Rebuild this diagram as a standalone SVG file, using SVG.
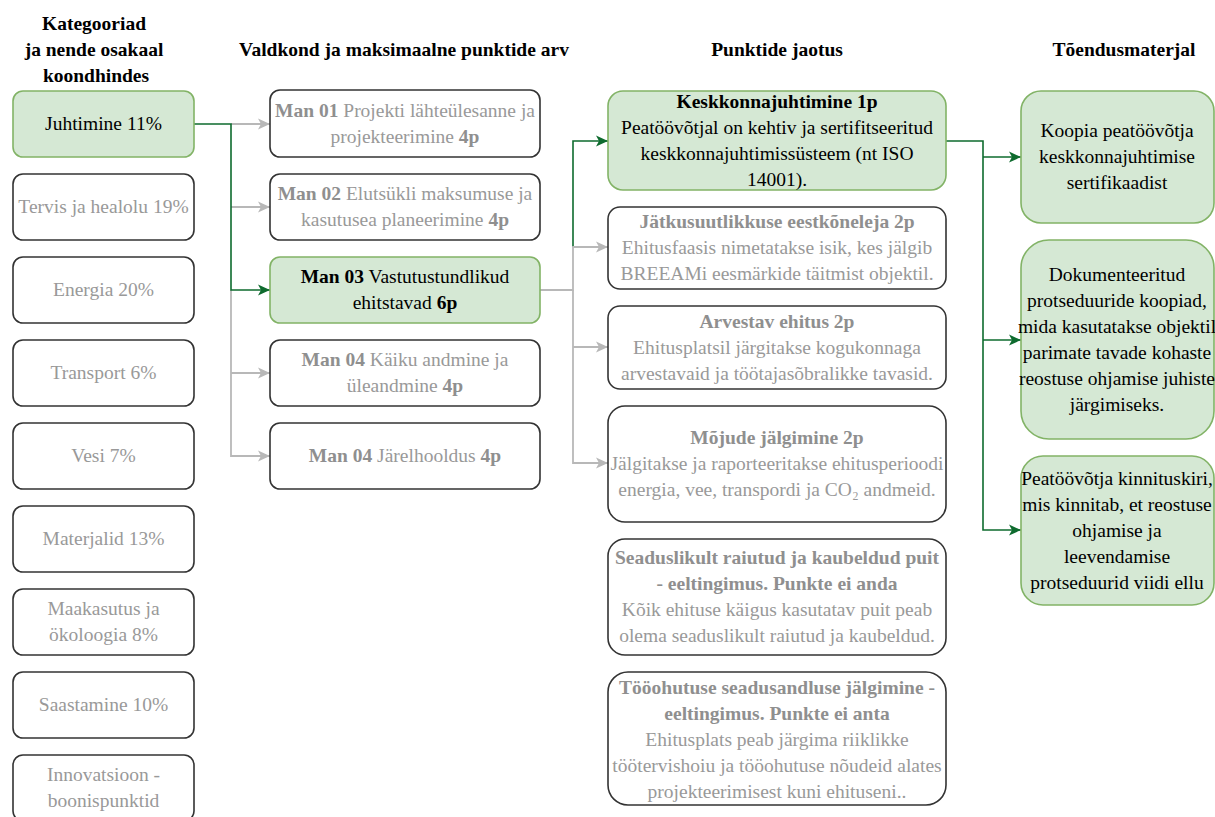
<svg xmlns="http://www.w3.org/2000/svg" width="1215" height="817" viewBox="0 0 1215 817" font-family="'Liberation Serif', 'Times New Roman', 'DejaVu Serif', serif">
<style>
text{font-family:'Liberation Serif','Times New Roman','DejaVu Serif',serif;font-size:19.5px;text-anchor:middle}
.h{font-weight:bold;fill:#000}
.b{font-weight:bold}
.g{fill:#999999}
.g .b{fill:#8f8f8f}
.k{fill:#000}
.box{fill:#ffffff;stroke:#333333;stroke-width:1.6}
.gbox{fill:#d5e8d4;stroke:#82b366;stroke-width:1.6}
.eg{fill:none;stroke:#b8b8b8;stroke-width:1.8}
.eG{fill:none;stroke:#0e6b2e;stroke-width:1.6}
</style>
<defs>
<marker id="ag" markerUnits="userSpaceOnUse" markerWidth="14" markerHeight="14" refX="12" refY="7" orient="auto">
<path d="M0,1.5 L12,7 L0,12.5 L3,7 z" fill="#b8b8b8"/>
</marker>
<marker id="aG" markerUnits="userSpaceOnUse" markerWidth="14" markerHeight="14" refX="12" refY="7" orient="auto">
<path d="M0,1.5 L12,7 L0,12.5 L3,7 z" fill="#0e6b2e"/>
</marker>
</defs>

<g id="headers">
<text class="h" x="94" y="30">Kategooriad</text>
<text class="h" x="94" y="56">ja nende osakaal</text>
<text class="h" x="96" y="82">koondhindes</text>
<text class="h" x="404" y="56">Valdkond ja maksimaalne punktide arv</text>
<text class="h" x="777" y="56">Punktide jaotus</text>
<text class="h" x="1124" y="56">Tõendusmaterjal</text>
</g>

<g id="connectors">
<path class="eg" d="M231,124 H270" marker-end="url(#ag)"/>
<path class="eg" d="M231,207 H270" marker-end="url(#ag)"/>
<path class="eg" d="M231,290 V456 H270" marker-end="url(#ag)"/>
<path class="eg" d="M231,373 H270" marker-end="url(#ag)"/>
<path class="eG" d="M194,124 H231 V290 H270" marker-end="url(#aG)"/>
<path class="eG" d="M573,247 V141 H608" marker-end="url(#aG)"/>
<path class="eg" d="M540,290 H573 V247 H608" marker-end="url(#ag)"/>
<path class="eg" d="M573,290 V463 H608" marker-end="url(#ag)"/>
<path class="eg" d="M573,347 H608" marker-end="url(#ag)"/>
<path class="eG" d="M946,141 H983 V530 H1021" marker-end="url(#aG)"/>
<path class="eG" d="M983,157 H1021" marker-end="url(#aG)"/>
<path class="eG" d="M983,340 H1021" marker-end="url(#aG)"/>
</g>

<g id="c1">
<g id="juhtimine"><rect class="gbox" x="13" y="91" width="181" height="66" rx="10"/><text class="k" x="103.5" y="130">Juhtimine 11%</text></g>
<g id="tervis"><rect class="box" x="13" y="174" width="181" height="66" rx="10"/><text class="g" x="103.5" y="213">Tervis ja healolu 19%</text></g>
<g id="energia"><rect class="box" x="13" y="257" width="181" height="66" rx="10"/><text class="g" x="103.5" y="296">Energia 20%</text></g>
<g id="transport"><rect class="box" x="13" y="340" width="181" height="66" rx="10"/><text class="g" x="103.5" y="379">Transport 6%</text></g>
<g id="vesi"><rect class="box" x="13" y="423" width="181" height="66" rx="10"/><text class="g" x="103.5" y="462">Vesi 7%</text></g>
<g id="materjalid"><rect class="box" x="13" y="506" width="181" height="66" rx="10"/><text class="g" x="103.5" y="545">Materjalid 13%</text></g>
<g id="maakasutus"><rect class="box" x="13" y="589" width="181" height="66" rx="10"/><text class="g" x="103.5" y="615">Maakasutus ja</text><text class="g" x="103.5" y="641">ökoloogia 8%</text></g>
<g id="saastamine"><rect class="box" x="13" y="672" width="181" height="66" rx="10"/><text class="g" x="103.5" y="711">Saastamine 10%</text></g>
<g id="innovatsioon"><rect class="box" x="13" y="755" width="181" height="66" rx="10"/><text class="g" x="103.5" y="781">Innovatsioon -</text><text class="g" x="103.5" y="807">boonispunktid</text></g>
</g>

<g id="c2">
<g id="man01"><rect class="box" x="270" y="90" width="270" height="67" rx="10"/><text class="g" x="405" y="117"><tspan class="b">Man 01</tspan> Projekti lähteülesanne ja</text><text class="g" x="405" y="143">projekteerimine <tspan class="b">4p</tspan></text></g>
<g id="man02"><rect class="box" x="270" y="174" width="270" height="66" rx="10"/><text class="g" x="405" y="200"><tspan class="b">Man 02</tspan> Elutsükli maksumuse ja</text><text class="g" x="405" y="226">kasutusea planeerimine <tspan class="b">4p</tspan></text></g>
<g id="man03"><rect class="gbox" x="270" y="257" width="270" height="66" rx="10"/><text class="k" x="405" y="283"><tspan class="b">Man 03</tspan> Vastutustundlikud</text><text class="k" x="405" y="309">ehitstavad <tspan class="b">6p</tspan></text></g>
<g id="man04a"><rect class="box" x="270" y="340" width="270" height="66" rx="10"/><text class="g" x="405" y="366"><tspan class="b">Man 04</tspan> Käiku andmine ja</text><text class="g" x="405" y="392">üleandmine <tspan class="b">4p</tspan></text></g>
<g id="man04b"><rect class="box" x="270" y="423" width="270" height="66" rx="10"/><text class="g" x="405" y="462"><tspan class="b">Man 04</tspan> Järelhooldus <tspan class="b">4p</tspan></text></g>
</g>

<g id="c3">
<g id="keskkonna"><rect class="gbox" x="608" y="91" width="338" height="99" rx="15"/>
<text class="k" x="777" y="108"><tspan class="b">Keskkonnajuhtimine 1p</tspan></text>
<text class="k" x="777" y="134">Peatöövõtjal on kehtiv ja sertifitseeritud</text>
<text class="k" x="777" y="160">keskkonnajuhtimissüsteem (nt ISO</text>
<text class="k" x="777" y="186">14001).</text></g>
<g id="jatkusuutlikkus"><rect class="box" x="608" y="207" width="338" height="82" rx="12"/>
<text class="g" x="777" y="228"><tspan class="b">Jätkusuutlikkuse eestkõneleja 2p</tspan></text>
<text class="g" x="777" y="254">Ehitusfaasis nimetatakse isik, kes jälgib</text>
<text class="g" x="777" y="280">BREEAMi eesmärkide täitmist objektil.</text></g>
<g id="arvestav"><rect class="box" x="608" y="306" width="338" height="83" rx="12"/>
<text class="g" x="777" y="328"><tspan class="b">Arvestav ehitus 2p</tspan></text>
<text class="g" x="777" y="354">Ehitusplatsil järgitakse kogukonnaga</text>
<text class="g" x="777" y="380">arvestavaid ja töötajasõbralikke tavasid.</text></g>
<g id="mojude"><rect class="box" x="608" y="406" width="338" height="116" rx="17"/>
<text class="g" x="777" y="444"><tspan class="b">Mõjude jälgimine 2p</tspan></text>
<text class="g" x="777" y="470">Jälgitakse ja raporteeritakse ehitusperioodi</text>
<text class="g" x="777" y="496">energia, vee, transpordi ja CO₂ andmeid.</text></g>
<g id="seaduslikult"><rect class="box" x="608" y="539" width="338" height="116" rx="17"/>
<text class="g" x="777" y="564"><tspan class="b">Seaduslikult raiutud ja kaubeldud puit</tspan></text>
<text class="g" x="777" y="590"><tspan class="b">- eeltingimus. Punkte ei anda</tspan></text>
<text class="g" x="777" y="616">Kõik ehituse käigus kasutatav puit peab</text>
<text class="g" x="777" y="642">olema seaduslikult raiutud ja kaubeldud.</text></g>
<g id="tooohutus"><rect class="box" x="608" y="672" width="338" height="133" rx="20"/>
<text class="g" x="777" y="694"><tspan class="b">Tööohutuse seadusandluse jälgimine -</tspan></text>
<text class="g" x="777" y="720"><tspan class="b">eeltingimus. Punkte ei anta</tspan></text>
<text class="g" x="777" y="746">Ehitusplats peab järgima riiklikke</text>
<text class="g" x="777" y="772">töötervishoiu ja tööohutuse nõudeid alates</text>
<text class="g" x="777" y="798">projekteerimisest kuni ehituseni..</text></g>
</g>

<g id="c4">
<g id="koopia"><rect class="gbox" x="1021" y="91" width="193" height="132" rx="20"/>
<text class="k" x="1117" y="137">Koopia peatöövõtja</text>
<text class="k" x="1117" y="163">keskkonnajuhtimise</text>
<text class="k" x="1117" y="189">sertifikaadist</text></g>
<g id="dokumenteeritud"><rect class="gbox" x="1021" y="240" width="193" height="199" rx="28"/>
<text class="k" x="1117" y="281">Dokumenteeritud</text>
<text class="k" x="1117" y="307">protseduuride koopiad,</text>
<text class="k" x="1117" y="333">mida kasutatakse objektil</text>
<text class="k" x="1117" y="359">parimate tavade kohaste</text>
<text class="k" x="1117" y="385">reostuse ohjamise juhiste</text>
<text class="k" x="1117" y="411">järgimiseks.</text></g>
<g id="kinnituskiri"><rect class="gbox" x="1021" y="456" width="193" height="149" rx="22"/>
<text class="k" x="1117" y="485">Peatöövõtja kinnituskiri,</text>
<text class="k" x="1117" y="511">mis kinnitab, et reostuse</text>
<text class="k" x="1117" y="537">ohjamise ja</text>
<text class="k" x="1117" y="563">leevendamise</text>
<text class="k" x="1117" y="589">protseduurid viidi ellu</text></g>
</g>
</svg>
